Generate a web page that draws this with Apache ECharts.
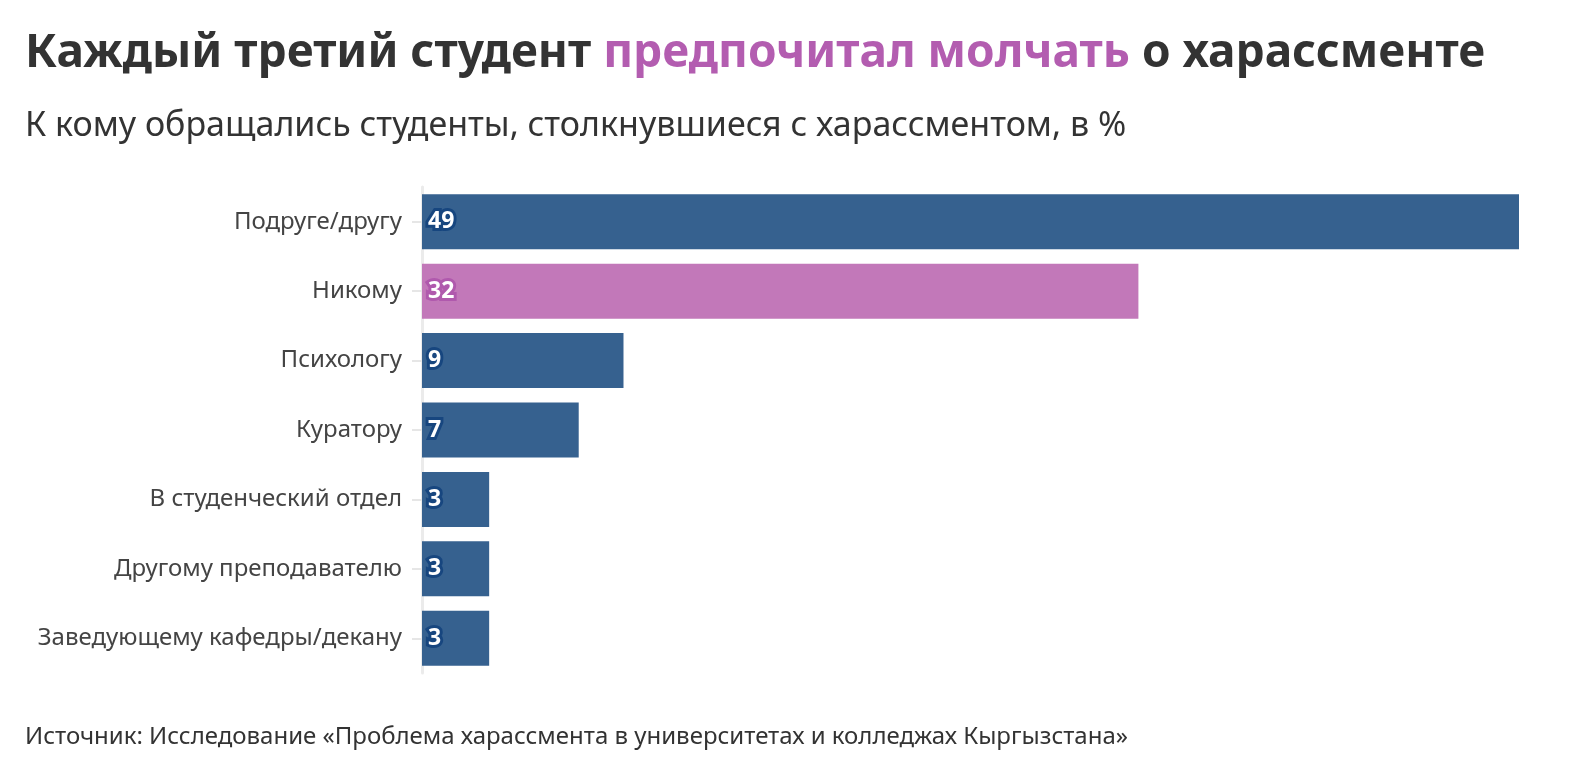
<!DOCTYPE html>
<html>
<head>
<meta charset="UTF-8">
<script src="https://cdn.jsdelivr.net/npm/echarts@6/dist/echarts.min.js"></script>
<style>
  html, body { margin: 0; padding: 0; background: #fff; }
  #chart { width: 1588px; height: 780px; }
</style>
</head>
<body>
<div id="chart"></div>
<script>
var categories = ['Подруге/другу', 'Никому', 'Психологу', 'Куратору', 'В студенческий отдел', 'Другому преподавателю', 'Заведующему кафедры/декану'];
var values = [49, 32, 9, 7, 3, 3, 3];
var highlight = 'Никому';

var FONT = '"Noto Sans", sans-serif';
var BLUE = '#36618f', BLUE_DARK = '#17467f';
var PINK = '#c278b9', PINK_DARK = '#b059ad';

var chart = echarts.init(document.getElementById('chart'));

var data = values.map(function (v, i) {
  var hi = categories[i] === highlight;
  return {
    value: v,
    itemStyle: { color: hi ? PINK : BLUE },
    label: { textBorderColor: hi ? PINK_DARK : BLUE_DARK }
  };
});

chart.setOption({
  animation: false,
  title: [{
    text: 'Каждый третий студент {p|предпочитал молчать} о харассменте',
    left: 20, top: 26,
    textStyle: {
      fontFamily: FONT, fontSize: 46, fontWeight: 'bold', color: '#333',
      rich: { p: { fontFamily: FONT, fontSize: 46, fontWeight: 'bold', color: '#b35db0' } }
    }
  }, {
    text: 'К кому обращались студенты, столкнувшиеся с харассментом, в %',
    left: 20, top: 104,
    textStyle: { fontFamily: FONT, fontSize: 34, fontWeight: 'normal', color: '#333' }
  }, {
    text: 'Источник: Исследование «Проблема харассмента в университетах и колледжах Кыргызстана»',
    left: 20, top: 720,
    textStyle: { fontFamily: FONT, fontSize: 24, fontWeight: 'normal', color: '#333' }
  }],
  grid: { left: 422, right: 69, top: 187, bottom: 107 },
  xAxis: {
    type: 'value', min: 0, max: 49,
    show: false
  },
  yAxis: {
    type: 'category', inverse: true, data: categories,
    axisLine: { show: true, lineStyle: { color: '#ebebeb', width: 3 } },
    axisTick: { show: true, alignWithLabel: true, length: 10, lineStyle: { color: '#e6e6e6', width: 2 } },
    axisLabel: { fontFamily: FONT, fontSize: 24, color: '#444', margin: 20 }
  },
  series: [{
    type: 'bar', data: data, barWidth: 55,
    label: {
      show: true, position: 'insideLeft', distance: 6,
      fontFamily: FONT, fontSize: 23, fontWeight: 'bold', color: '#fff',
      textBorderWidth: 6
    }
  }]
});
</script>
</body>
</html>
